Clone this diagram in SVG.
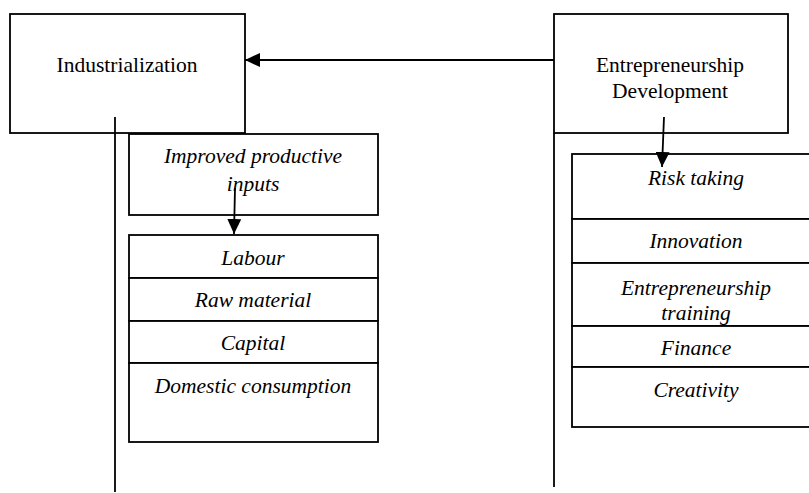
<svg xmlns="http://www.w3.org/2000/svg" width="809" height="493" viewBox="0 0 809 493">
<style>
.box{fill:#fff;stroke:#000;stroke-width:1.8}
.ln{fill:none;stroke:#000;stroke-width:1.8}
.t{font-family:"Liberation Serif","Times New Roman",serif;font-size:21.5px;fill:#000;text-anchor:middle}
.i{font-style:italic}
</style>
<defs>
<marker id="ah" markerWidth="16" markerHeight="14" refX="15" refY="7" orient="auto" markerUnits="userSpaceOnUse">
<path d="M0,0 L15,7 L0,14 Z" fill="#000"/>
</marker>
</defs>
<g id="industrialization">
<rect class="box" x="10" y="14" width="235" height="119"/>
<text class="t" x="127" y="72">Industrialization</text>
</g>
<g id="entrepreneurship-development">
<rect class="box" x="554" y="14" width="234" height="119"/>
<text class="t" x="670" y="72">Entrepreneurship</text>
<text class="t" x="670" y="98">Development</text>
</g>
<g id="improved-inputs">
<rect class="box" x="129" y="134" width="249" height="81"/>
<text class="t i" x="253" y="163">Improved productive</text>
<text class="t i" x="253" y="191">inputs</text>
</g>
<g id="inputs-list">
<rect class="box" x="129" y="235" width="249" height="43"/>
<text class="t i" x="253" y="265">Labour</text>
<rect class="box" x="129" y="278" width="249" height="43"/>
<text class="t i" x="253" y="307">Raw material</text>
<rect class="box" x="129" y="321" width="249" height="42"/>
<text class="t i" x="253" y="350">Capital</text>
<rect class="box" x="129" y="363" width="249" height="79"/>
<text class="t i" x="253" y="393">Domestic consumption</text>
</g>
<g id="entrepreneurship-list">
<rect class="box" x="572" y="154" width="245" height="65"/>
<text class="t i" x="696" y="185">Risk taking</text>
<rect class="box" x="572" y="219" width="245" height="44"/>
<text class="t i" x="696" y="248">Innovation</text>
<rect class="box" x="572" y="263" width="245" height="63"/>
<text class="t i" x="696" y="295">Entrepreneurship</text>
<text class="t i" x="696" y="320">training</text>
<rect class="box" x="572" y="326" width="245" height="41"/>
<text class="t i" x="696" y="355">Finance</text>
<rect class="box" x="572" y="367" width="245" height="60"/>
<text class="t i" x="696" y="397">Creativity</text>
</g>
<g id="connectors">
<line class="ln" x1="554" y1="60" x2="245" y2="60" marker-end="url(#ah)"/>
<line class="ln" x1="664" y1="117" x2="662" y2="167" marker-end="url(#ah)"/>
<line class="ln" x1="235" y1="188" x2="234" y2="234" marker-end="url(#ah)"/>
<line class="ln" x1="115" y1="117" x2="115" y2="492"/>
<line class="ln" x1="554" y1="133" x2="554" y2="487"/>
</g>
</svg>
